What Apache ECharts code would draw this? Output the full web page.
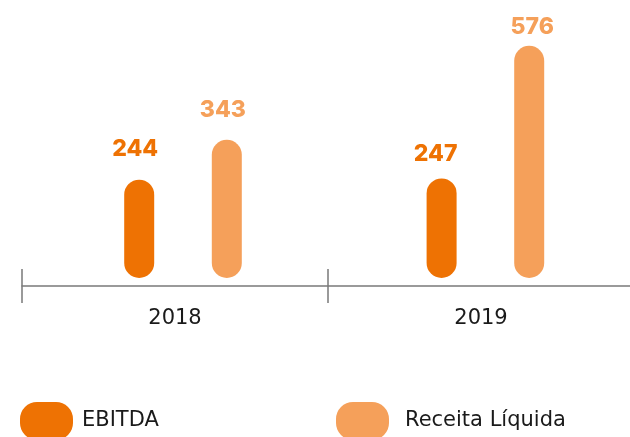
<!DOCTYPE html>
<html>
<head>
<meta charset="utf-8">
<script src="https://cdn.jsdelivr.net/npm/echarts@6/dist/echarts.min.js"></script>
<style>
  html, body { margin: 0; padding: 0; background: #ffffff; }
  #chart { width: 630px; height: 437px; }
</style>
</head>
<body>
<div id="chart"></div>
<script>
// Years and values (R$ milhões)
const categories = ['2018', '2019'];
const ebitda = [244, 247];
const receita = [343, 576];
const seriesNames = ['EBITDA', 'Receita Líquida'];

// per-bar label placement: [gap above bar, horizontal nudge]
const ebitdaLabelPos = [[19, -4], [13, -6]];
const receitaLabelPos = [[18, -4], [7, 3]];

const COLOR_DARK = '#EE7203';
const COLOR_LIGHT = '#F5A05A';
const AXIS_GRAY = '#7a7a7a';
const PILL = 'path://M17,0 H36 A17,17 0 0 1 53,17 V21 A17,17 0 0 1 36,38 H17 A17,17 0 0 1 0,21 V17 A17,17 0 0 1 17,0 Z';

const chart = echarts.init(document.getElementById('chart'), null, { renderer: 'canvas' });

function barSeries(name, values, labelPos, color) {
  return {
    name: name,
    type: 'bar',
    xAxisIndex: 2,
    yAxisIndex: 1,
    data: values.map((v, i) => ({
      value: v,
      label: { distance: labelPos[i][0], offset: [labelPos[i][1], 0] }
    })),
    barWidth: 30,
    barGap: '192%',
    itemStyle: { color: color, borderRadius: 15 },
    label: {
      show: true,
      position: 'top',
      color: color,
      fontFamily: 'Inter',
      fontWeight: 800,
      fontSize: 23
    },
    emphasis: { disabled: true }
  };
}

const option = {
  animation: false,
  backgroundColor: '#ffffff',
  grid: [
    // axis with year labels (runs past the right edge)
    { left: 22, width: 612, top: 30, bottom: 151, containLabel: false, outerBoundsMode: 'none' },
    // bars
    { left: 31.8, width: 604.8, top: 36.2, bottom: 159, containLabel: false, outerBoundsMode: 'none' }
  ],
  xAxis: [
    {
      type: 'category',
      gridIndex: 0,
      data: categories,
      position: 'bottom',
      boundaryGap: true,
      axisLine: { show: true, lineStyle: { color: AXIS_GRAY, width: 1.5 } },
      axisTick: { show: true, inside: false, length: 17, lineStyle: { color: AXIS_GRAY, width: 1.5 } },
      axisLabel: { show: true, margin: 22, color: '#1a1a1a', fontFamily: 'DejaVu Sans', fontSize: 21 },
      splitLine: { show: false }
    },
    {
      type: 'category',
      gridIndex: 0,
      data: categories,
      position: 'bottom',
      boundaryGap: true,
      axisLine: { show: false },
      axisTick: { show: true, inside: true, length: 17, lineStyle: { color: AXIS_GRAY, width: 1.5 } },
      axisLabel: { show: false },
      splitLine: { show: false }
    },
    {
      type: 'category',
      gridIndex: 1,
      data: categories,
      show: false
    }
  ],
  yAxis: [
    { type: 'value', gridIndex: 0, show: false, min: 0, max: 600 },
    { type: 'value', gridIndex: 1, show: false, min: 0, max: 600 }
  ],
  legend: [
    {
      data: [seriesNames[0]],
      left: 20,
      top: 402,
      padding: 0,
      itemWidth: 53,
      itemHeight: 38,
      icon: PILL,
      selectedMode: false,
      textStyle: { color: '#1a1a1a', fontFamily: 'DejaVu Sans', fontSize: 21, padding: [5, 0, 0, 4] }
    },
    {
      data: [seriesNames[1]],
      left: 336,
      top: 402,
      padding: 0,
      itemWidth: 53,
      itemHeight: 38,
      icon: PILL,
      selectedMode: false,
      textStyle: { color: '#1a1a1a', fontFamily: 'DejaVu Sans', fontSize: 21, padding: [5, 0, 0, 11] }
    }
  ],
  series: [
    barSeries(seriesNames[0], ebitda, ebitdaLabelPos, COLOR_DARK),
    barSeries(seriesNames[1], receita, receitaLabelPos, COLOR_LIGHT)
  ]
};

chart.setOption(option);
</script>
</body>
</html>
